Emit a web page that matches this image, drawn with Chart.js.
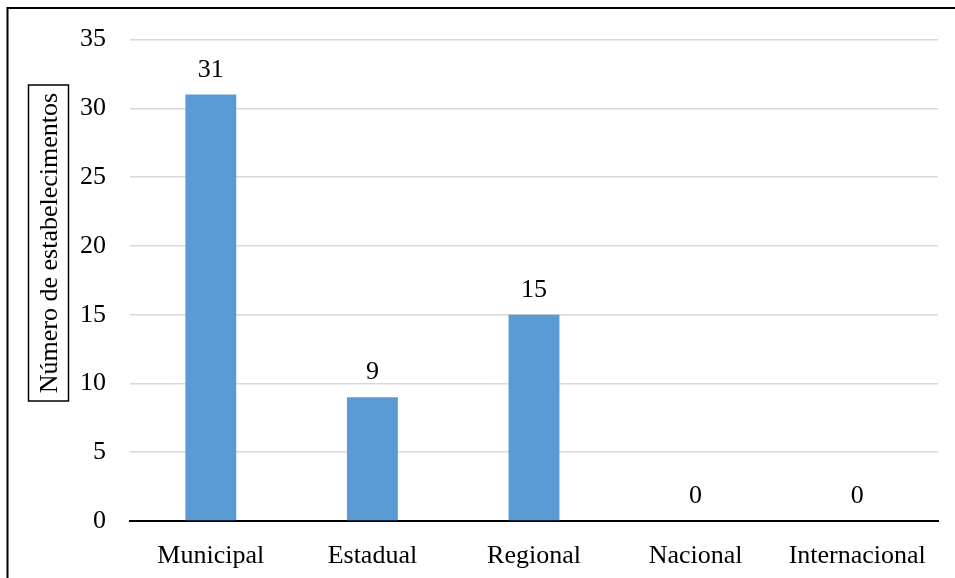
<!DOCTYPE html>
<html>
<head>
<meta charset="utf-8">
<script src="https://cdn.jsdelivr.net/npm/chart.js@4"></script>
<style>
  html, body { margin: 0; padding: 0; background: #fff; }
  canvas { display: block; }
</style>
</head>
<body>
<canvas id="c" width="955" height="578"></canvas>
<script>
// Establishments by scope
const categories = ['Municipal', 'Estadual', 'Regional', 'Nacional', 'Internacional'];
const counts = [31, 9, 15, 0, 0];
const yTicks = [0, 5, 10, 15, 20, 25, 30, 35];
const yTitle = 'Número de estabelecimentos';

const FONT = '"Liberation Serif", "Times New Roman", serif';
const FONT_SIZE = 26;

// Frame around the whole figure (top and left edges fall inside the canvas)
const framePlugin = {
  id: 'frame',
  afterDraw(chart) {
    const ctx = chart.ctx;
    ctx.save();
    ctx.strokeStyle = '#000';
    ctx.lineWidth = 2;
    ctx.strokeRect(7.5, 8, chart.width + 20, chart.height + 20);
    ctx.restore();
  }
};

// Boxed, rotated y-axis title
const yTitlePlugin = {
  id: 'boxedTitle',
  afterDraw(chart) {
    const ctx = chart.ctx;
    ctx.save();
    ctx.strokeStyle = '#000';
    ctx.lineWidth = 1.5;
    ctx.strokeRect(28.5, 85, 40, 316);
    ctx.translate(49, 243);
    ctx.rotate(-Math.PI / 2);
    ctx.fillStyle = '#000';
    ctx.font = FONT_SIZE + 'px ' + FONT;
    ctx.textAlign = 'center';
    ctx.textBaseline = 'middle';
    ctx.fillText(yTitle, 0, 1);
    ctx.restore();
  }
};

// Value labels above each bar
const valueLabels = {
  id: 'valueLabels',
  afterDatasetsDraw(chart) {
    const ctx = chart.ctx;
    const meta = chart.getDatasetMeta(0);
    ctx.save();
    ctx.fillStyle = '#000';
    ctx.font = FONT_SIZE + 'px ' + FONT;
    ctx.textAlign = 'center';
    ctx.textBaseline = 'alphabetic';
    meta.data.forEach((bar, i) => {
      ctx.fillText(String(counts[i]), bar.x, bar.y - 18);
    });
    ctx.restore();
  }
};

new Chart(document.getElementById('c'), {
  type: 'bar',
  data: {
    labels: categories,
    datasets: [{
      data: counts,
      backgroundColor: '#5B9BD5',
      borderWidth: 0,
      barPercentage: 0.63,
      categoryPercentage: 0.5
    }]
  },
  options: {
    responsive: false,
    animation: false,
    layout: { padding: { top: 37, right: 17, left: 0, bottom: 0 } },
    plugins: {
      legend: { display: false },
      tooltip: { enabled: false }
    },
    scales: {
      x: {
        grid: { display: false },
        border: { display: true, color: '#000', width: 2 },
        ticks: {
          color: '#000',
          font: { family: FONT, size: FONT_SIZE },
          padding: 12,
          maxRotation: 0,
          autoSkip: false
        },
        afterFit(scale) { scale.height = 57; }
      },
      y: {
        min: 0,
        max: 35,
        afterBuildTicks(scale) { scale.ticks = yTicks.map(v => ({ value: v })); },
        grid: { color: '#d9d9d9', lineWidth: 1.5, drawTicks: false },
        border: { display: false },
        ticks: {
          color: '#000',
          font: { family: FONT, size: FONT_SIZE },
          padding: 24
        },
        afterFit(scale) { scale.width = 130; }
      }
    }
  },
  plugins: [valueLabels, yTitlePlugin, framePlugin]
});
</script>
</body>
</html>
